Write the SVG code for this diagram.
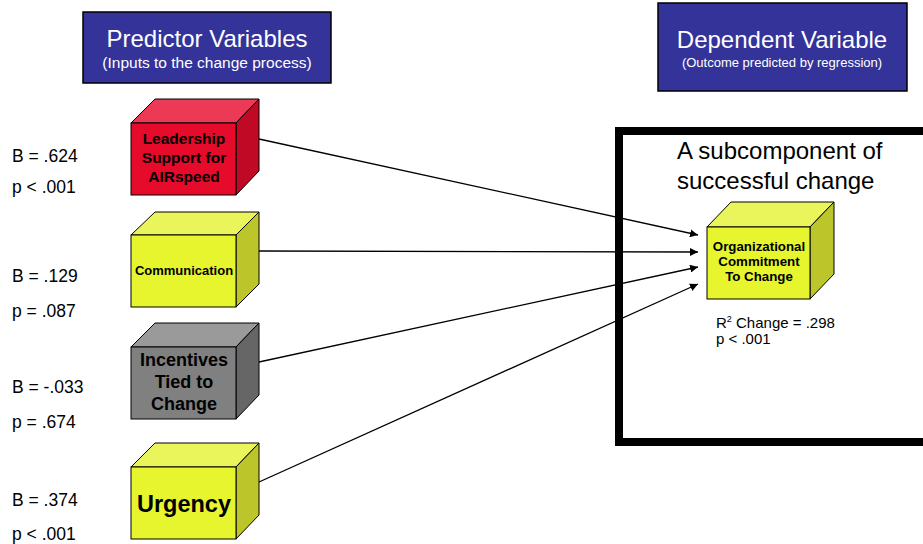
<svg xmlns="http://www.w3.org/2000/svg" width="923" height="544" viewBox="0 0 923 544">
<defs>
<style>
text{font-family:"Liberation Sans",Arial,sans-serif}
.hdr{fill:#333399;stroke:#000;stroke-width:1.5}
.ht{fill:#fff;text-anchor:middle}
.e{stroke:#000;stroke-width:1}
.lbl{font-size:17.5px;fill:#000}
.ct{font-weight:bold;text-anchor:middle;fill:#000}
.cn{stroke:#000;stroke-width:1.3;fill:none;marker-end:url(#ah)}
</style>
<marker id="ah" viewBox="0 0 10 10" refX="10" refY="5" markerWidth="8" markerHeight="8" markerUnits="userSpaceOnUse" orient="auto">
<path d="M0,0 L10,5 L0,10 z" fill="#000"/>
</marker>
</defs>
<rect width="923" height="544" fill="#fff"/>
<g id="hdr-pred">
<rect class="hdr" x="83" y="12" width="248" height="71"/>
<text class="ht" x="207" y="47" font-size="24">Predictor Variables</text>
<text class="ht" x="207" y="68" font-size="15.5">(Inputs to the change process)</text>
</g>
<g id="hdr-dep">
<rect class="hdr" x="658" y="3" width="249" height="88"/>
<text class="ht" x="782" y="48" font-size="24">Dependent Variable</text>
<text class="ht" x="782" y="67" font-size="13">(Outcome predicted by regression)</text>
</g>
<g id="frame">
<rect x="619" y="131" width="320" height="311" fill="none" stroke="#000" stroke-width="8"/>
<text x="677" y="159" font-size="24">A subcomponent of</text>
<text x="677" y="189" font-size="24">successful change</text>
</g>
<g id="labels">
<text class="lbl" x="12" y="162">B = .624</text>
<text class="lbl" x="12" y="193">p &lt; .001</text>
<text class="lbl" x="12" y="282">B = .129</text>
<text class="lbl" x="12" y="317">p = .087</text>
<text class="lbl" x="12" y="393">B = -.033</text>
<text class="lbl" x="12" y="428">p = .674</text>
<text class="lbl" x="12" y="506">B = .374</text>
<text class="lbl" x="12" y="540">p &lt; .001</text>
</g>
<g id="connectors">
<line class="cn" x1="259" y1="139" x2="698" y2="235"/>
<line class="cn" x1="259" y1="251" x2="698" y2="252"/>
<line class="cn" x1="259" y1="362" x2="698" y2="267"/>
<line class="cn" x1="259" y1="482" x2="698" y2="284"/>
</g>
<g id="leadership">
<polygon class="e" points="131,123 155,99 259,99 236,123" fill="#EC3A56"/>
<polygon class="e" points="236,123 259,99 259,171 236,195" fill="#C00A25"/>
<rect class="e" x="131" y="123" width="105" height="72" fill="#E60A2B"/>
<text class="ct" x="184" y="144" font-size="15.5">Leadership</text>
<text class="ct" x="184" y="163" font-size="15.5">Support for</text>
<text class="ct" x="184" y="182" font-size="15.5">AIRspeed</text>
</g>
<g id="communication">
<polygon class="e" points="131,235 155,212 259,212 236,235" fill="#EAF55C"/>
<polygon class="e" points="236,235 259,212 259,284 236,307" fill="#BCC62A"/>
<rect class="e" x="131" y="235" width="105" height="72" fill="#E6F52E"/>
<text class="ct" x="184" y="275" font-size="13">Communication</text>
</g>
<g id="incentives">
<polygon class="e" points="131,347 155,323 259,323 236,347" fill="#9A9A9A"/>
<polygon class="e" points="236,347 259,323 259,395 236,419" fill="#666"/>
<rect class="e" x="131" y="347" width="105" height="72" fill="#808080"/>
<text class="ct" x="184" y="366" font-size="18">Incentives</text>
<text class="ct" x="184" y="388" font-size="18">Tied to</text>
<text class="ct" x="184" y="410" font-size="18">Change</text>
</g>
<g id="urgency">
<polygon class="e" points="131,467 155,443 259,443 236,467" fill="#EAF55C"/>
<polygon class="e" points="236,467 259,443 259,515 236,539" fill="#BCC62A"/>
<rect class="e" x="131" y="467" width="105" height="72" fill="#E6F52E"/>
<text class="ct" x="184" y="512" font-size="23.5">Urgency</text>
</g>
<g id="commitment">
<polygon class="e" points="707,227 731,202 834,202 810,227" fill="#EAF55C"/>
<polygon class="e" points="810,227 834,202 834,274 810,299" fill="#BCC62A"/>
<rect class="e" x="707" y="227" width="103" height="72" fill="#E6F52E"/>
<text class="ct" x="759" y="251" font-size="13.3">Organizational</text>
<text class="ct" x="759" y="266" font-size="13.3">Commitment</text>
<text class="ct" x="759" y="281" font-size="13.3">To Change</text>
<text x="716" y="328" font-size="15">R<tspan font-size="9" dy="-6">2</tspan><tspan dy="6"> Change = .298</tspan></text>
<text x="716" y="344" font-size="15">p &lt; .001</text>
</g>
</svg>
